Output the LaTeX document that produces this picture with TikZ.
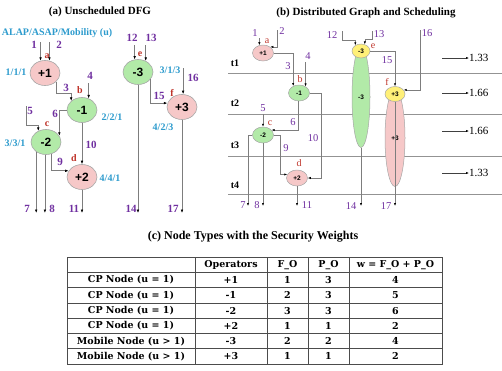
\documentclass[tikz,border=0pt]{standalone}
\usepackage{fontspec}
\setmainfont{Liberation Serif}
\setsansfont{Liberation Sans}
\newfontfamily\tabfont{DejaVu Serif}
\usepackage{tikz}
\usetikzlibrary{positioning, shapes.geometric, arrows.meta}
\usepackage{xcolor}
\definecolor{numpurple}{RGB}{112,48,160}
\definecolor{mobteal}{RGB}{45,155,205}
\definecolor{lblred}{RGB}{190,50,40}
\definecolor{cpink}{RGB}{246,200,200}
\definecolor{cgreen}{RGB}{178,234,168}
\definecolor{cyellow}{RGB}{255,240,120}
\definecolor{edgegray}{RGB}{125,125,125}

\begin{document}
\begin{tikzpicture}[x=1pt, y=-1pt,
    op/.style={ellipse, draw=gray!70, line width=0.6pt, inner sep=0pt, minimum width=30pt, minimum height=25pt, font=\sffamily\bfseries\fontsize{12}{12}\selectfont},
    sop/.style={ellipse, draw=gray!70, line width=0.5pt, inner sep=0pt, minimum width=21pt, minimum height=16pt, font=\sffamily\bfseries\fontsize{6.5}{7}\selectfont},
    pinkop/.style={fill=cpink}, greenop/.style={fill=cgreen}, yellowop/.style={fill=cyellow},
    wire/.style={draw=edgegray, line width=0.6pt},
    arr/.style={wire, -{Latex[length=3.5pt,width=2.6pt,black]}},
    sarr/.style={wire, line width=0.5pt, -{Latex[length=3pt,width=2.2pt,black]}},
    num/.style={text=numpurple, font=\bfseries\fontsize{11}{11}\selectfont, inner sep=0pt},
    snum/.style={text=numpurple, font=\fontsize{10.5}{11}\selectfont, inner sep=0pt},
    opname/.style={text=lblred, font=\bfseries\fontsize{10}{10}\selectfont, inner sep=0pt},
    sopname/.style={text=lblred, font=\fontsize{10}{10}\selectfont, inner sep=0pt},
    mob/.style={text=mobteal, font=\bfseries\fontsize{10}{10}\selectfont, inner sep=0pt},
    title/.style={font=\bfseries\fontsize{11}{12}\selectfont},
    tlab/.style={font=\bfseries\fontsize{10}{10}\selectfont, inner sep=0pt},
    wlab/.style={font=\fontsize{11}{11}\selectfont, inner sep=0pt},
    tabline/.style={draw=black!70, line width=0.8pt},
    cell/.style={font=\tabfont\bfseries\fontsize{9.5}{10}\selectfont, inner sep=0pt}
]
    \useasboundingbox (0,0) rectangle (502,370);

    % (a) Unscheduled DFG
    \node[title] (titA) at (100,12) {(a) Unscheduled DFG};
    \node[mob] (mobhead) at (57,33) {ALAP/ASAP/Mobility (u)};

    % Operation nodes
    \node[op, pinkop] (pA1) at (45,73) {+1};
    \node[op, greenop] (mA1) at (82,110) {-1};
    \node[op, greenop] (mA2) at (46,142) {-2};
    \node[op, pinkop] (pA2) at (82,177) {+2};
    \node[op, greenop] (mA3) at (138,72) {-3};
    \node[op, pinkop] (pA3) at (182,107) {+3};

    % ALAP/ASAP/Mobility values
    \node[mob] (uA) at (16,72) {1/1/1};
    \node[mob] (uB) at (112,117) {2/2/1};
    \node[mob] (uC) at (15,143) {3/3/1};
    \node[mob] (uD) at (110,178) {4/4/1};
    \node[mob] (uE) at (170,70) {3/1/3};
    \node[mob] (uF) at (163,127) {4/2/3};

    % Operation names
    \node[opname] (nmA) at (47,56) {a};
    \node[opname] (nmB) at (80,90) {b};
    \node[opname] (nmC) at (47,124) {c};
    \node[opname] (nmD) at (74,158) {d};
    \node[opname] (nmE) at (140,54) {e};
    \node[opname] (nmF) at (172,93) {f};

    % Edge numbers
    \node[num] (nA1) at (34,45) {1};
    \node[num] (nA2) at (59,45) {2};
    \node[num] (nA3) at (66,88) {3};
    \node[num] (nA4) at (90,76) {4};
    \node[num] (nA5) at (30,111) {5};
    \node[num] (nA6) at (55,114) {6};
    \node[num] (nA9) at (60,162) {9};
    \node[num] (nA10) at (91,145) {10};
    \node[num] (nA12) at (132,38) {12};
    \node[num] (nA13) at (151,38) {13};
    \node[num] (nA15) at (159,96) {15};
    \node[num] (nA16) at (193,78) {16};
    \node[num] (nA7) at (27,209) {7};
    \node[num] (nA8) at (52,209) {8};
    \node[num] (nA11) at (74,209) {11};
    \node[num] (nA14) at (131,209) {14};
    \node[num] (nA17) at (173,209) {17};

    % Free ends
    \coordinate (iA1) at (39,42);
    \coordinate (iA2) at (52,42);
    \coordinate (iA4) at (89,83);
    \coordinate (iA5) at (26,106);
    \coordinate (iA12) at (134,45);
    \coordinate (iA13) at (146,45);
    \coordinate (iA16) at (183,68);
    \coordinate (oA) at (0,213);

    % Edges
    \draw[arr] (pA1.110 |- iA1) -- (pA1.110);
    \draw[arr] (pA1.70 |- iA2) -- (pA1.70);
    \draw[arr] (pA1.-40) |- ([yshift=8pt]mA1.140) -- (mA1.140);
    \draw[arr] (mA1.60 |- iA4) -- (mA1.60);
    \draw[arr] (iA5) |- ([yshift=6pt]mA2.125) -- (mA2.125);
    \draw[arr] (mA1.west) -| (mA2.25);
    \draw[arr] (mA1.south) -- (pA2.north);
    \draw[arr] (mA2.-65) |- (pA2.155);
    \draw[arr] (mA3.105 |- iA12) -- (mA3.105);
    \draw[arr] (mA3.55 |- iA13) -- (mA3.55);
    \draw[arr] (mA3.-30) |- (pA3.165);
    \draw[arr] (pA3.85 |- iA16) -- (pA3.85);

    % Outputs
    \draw[arr] (mA2.-135) -- (mA2.-135 |- oA);
    \draw[arr] (mA2.-95) -- (mA2.-95 |- oA);
    \draw[arr] (pA2.south) -- (pA2.south |- oA);
    \draw[arr] (mA3.south) -- (mA3.south |- oA);
    \draw[arr] (pA3.south) -- (pA3.south |- oA);

    % (b) Distributed Graph and Scheduling
    \node[title] (titB) at (366,13) {(b) Distributed Graph and Scheduling};

    % Control steps
    \foreach \y in {73,114,156,194}
        \draw[draw=gray!85, line width=0.6pt] (228,\y) -- (502,\y);
    \node[tlab] (t1) at (235,63) {t1};
    \node[tlab] (t2) at (235,103) {t2};
    \node[tlab] (t3) at (235,145) {t3};
    \node[tlab] (t4) at (235,185) {t4};

    % Security weights per step
    \foreach \y/\val [count=\i] in {58/1.33, 93/1.66, 131/1.66, 173/1.33} {
        \node[wlab, anchor=west] (sw\i) at (469,\y) {\val};
        \coordinate (ws\i) at (442,\y);
        \draw[sarr, draw=black!75] (ws\i) -- (sw\i.west);
    }

    % Mobile nodes stretched over their steps
    \node[sop, greenop, minimum width=18pt, minimum height=101pt] (mB3l) at (361,97) {-3};
    \node[sop, pinkop, minimum width=20pt, minimum height=97pt] (pB3l) at (395,138) {+3};

    % Operation nodes
    \node[sop, pinkop] (pB1) at (263,53) {+1};
    \node[sop, greenop] (mB1) at (299,93) {-1};
    \node[sop, greenop] (mB2) at (263,135) {-2};
    \node[sop, pinkop] (pB2) at (297,178) {+2};
    \node[sop, yellowop, minimum width=18pt, minimum height=14pt] (mB3) at (361,51) {-3};
    \node[sop, yellowop, minimum width=20pt, minimum height=15pt] (pB3) at (395,94) {+3};

    % Operation names
    \node[sopname] (nmBa) at (267,41) {a};
    \node[sopname] (nmBb) at (300,79) {b};
    \node[sopname] (nmBc) at (270,123) {c};
    \node[sopname] (nmBd) at (299,163) {d};
    \node[sopname] (nmBe) at (373,46) {e};
    \node[sopname] (nmBf) at (387,82) {f};

    % Edge numbers
    \node[snum] (nB1) at (255,33) {1};
    \node[snum] (nB2) at (282,31) {2};
    \node[snum] (nB3) at (288,66) {3};
    \node[snum] (nB4) at (308,56) {4};
    \node[snum] (nB5) at (263,108) {5};
    \node[snum] (nB6) at (293,122) {6};
    \node[snum] (nB9) at (286,148) {9};
    \node[snum] (nB10) at (313,138) {10};
    \node[snum] (nB12) at (332,35) {12};
    \node[snum] (nB13) at (379,34) {13};
    \node[snum] (nB15) at (387,60) {15};
    \node[snum] (nB16) at (427,33) {16};
    \node[snum] (nB7) at (243,205) {7};
    \node[snum] (nB8) at (257,205) {8};
    \node[snum] (nB11) at (307,205) {11};
    \node[snum] (nB14) at (351,206) {14};
    \node[snum] (nB17) at (386,206) {17};

    % Free ends
    \coordinate (iB1) at (259,38);
    \coordinate (iB2) at (277,30);
    \coordinate (iB4) at (305,62);
    \coordinate (iB5) at (263,114);
    \coordinate (iB12) at (342,31);
    \coordinate (iB13) at (372,31);
    \coordinate (iB16) at (420,30);
    \coordinate (oB7) at (248,206);

    % Edges
    \draw[sarr] (pB1.115 |- iB1) -- (pB1.115);
    \draw[sarr] (iB2) |- (pB1.40);
    \draw[sarr] (pB1.east) -| (mB1.130);
    \draw[sarr] (mB1.45 |- iB4) -- (mB1.45);
    \draw[sarr] (mB2.north |- iB5) -- (mB2.north);
    \draw[sarr] (mB1.-95) |- (mB2.30);
    \draw[sarr] (mB1.east) -| ([xshift=13pt]pB2.east) -- (pB2.east);
    \draw[sarr] (mB2.east) -| ([xshift=-7pt]pB2.160) -- (pB2.160);
    \draw[sarr] (iB12) |- ([yshift=5pt]mB3.135) -- (mB3.135);
    \draw[sarr] (iB13) |- ([yshift=5pt]mB3.60) -- (mB3.60);
    \draw[sarr] (mB3.east) -| (pB3.north);
    \draw[sarr] (iB16) |- (pB3.25);

    % Outputs
    \draw[sarr] (mB2.west) -| (oB7);
    \draw[sarr] (mB2.south) -- (mB2.south |- oB7);
    \draw[sarr] (pB2.south) -- (pB2.south |- oB7);
    \draw[sarr] (mB3l.south) -- (mB3l.south |- oB7);
    \draw[sarr] (pB3.south) -- (pB3.south |- oB7);

    % (c) Node types with the security weights
    \node[title, font=\bfseries\fontsize{12}{13}\selectfont] (titC) at (253,237) {(c) Node Types with the Security Weights};

    \draw[tabline] (67,257) rectangle (442,364.1);
    \foreach \y in {272.3,287.6,302.9,318.2,333.5,348.8}
        \draw[tabline] (67,\y) -- (442,\y);
    \foreach \x in {195,267,308,349}
        \draw[tabline] (\x,257) -- (\x,364.1);

    \node[cell] (hOp) at (231,264.65) {Operators};
    \node[cell] (hFO) at (287.5,264.65) {F\_O};
    \node[cell] (hPO) at (328.5,264.65) {P\_O};
    \node[cell] (hW) at (395.5,264.65) {w = F\_O + P\_O};

    \foreach \typ/\opr/\fo/\po/\wt [count=\r] in {CP Node (u = 1)/+1/1/3/4, CP Node (u = 1)/-1/2/3/5, CP Node (u = 1)/-2/3/3/6, CP Node (u = 1)/+2/1/1/2, Mobile Node (u > 1)/-3/2/2/4, Mobile Node (u > 1)/+3/1/1/2} {
        \node[cell] (typ\r) at (131,264.65+15.3*\r) {\typ};
        \node[cell] (opr\r) at (231,264.65+15.3*\r) {\opr};
        \node[cell] (fo\r) at (287.5,264.65+15.3*\r) {\fo};
        \node[cell] (po\r) at (328.5,264.65+15.3*\r) {\po};
        \node[cell] (wt\r) at (395.5,264.65+15.3*\r) {\wt};
    }
\end{tikzpicture}
\end{document}
